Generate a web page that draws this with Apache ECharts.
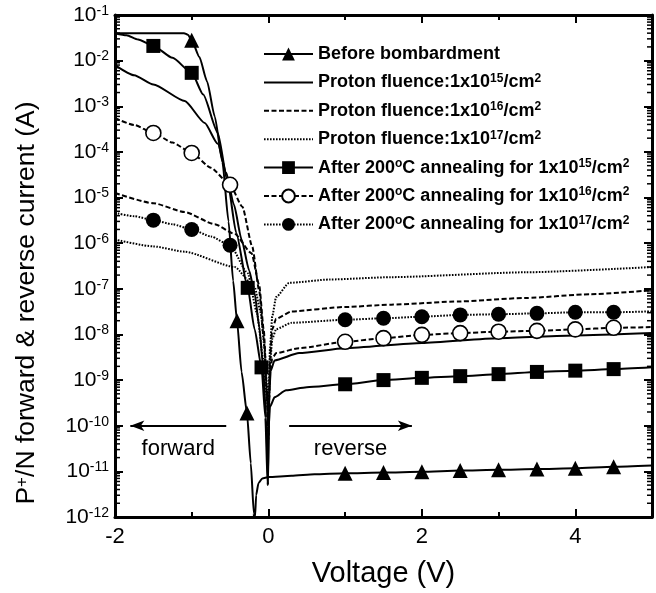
<!DOCTYPE html>
<html>
<head>
<meta charset="utf-8">
<script src="https://cdn.jsdelivr.net/npm/echarts@6/dist/echarts.min.js"></script>
<style>
  html, body { margin: 0; padding: 0; background: #fff; }
  #chart { width: 656px; height: 593px; }
</style>
</head>
<body>
<div id="chart"></div>
<script>
// I-V data: [voltage (V), |current| (A)]
const beforeCurve = [[-2, 4e-2], [-1.1, 4e-2], [-1.05, 3.7e-2], [-0.9, 1.2e-2], [-0.8, 3.5e-3], [-0.7, 6e-4], [-0.6, 6e-5], [-0.52, 3e-6], [-0.46, 1.5e-7], [-0.35, 1.5e-9], [-0.23, 1.5e-11], [-0.19, 1.2e-12], [-0.185, 3e-13], [-0.175, 1e-12], [-0.16, 3e-12], [-0.13, 5.5e-12], [-0.08, 7e-12], [0, 7.5e-12], [0.3, 8e-12], [0.6, 8.6e-12], [5, 1.35e-11]];
const beforeMarks = [[-1, 2.8e-2], [-0.41, 2e-8], [-0.28, 1.9e-10], [1, 9.1e-12], [1.5, 9.4e-12], [2, 9.8e-12], [2.5, 1.04e-11], [3, 1.08e-11], [3.5, 1.12e-11], [4, 1.17e-11], [4.5, 1.27e-11]];

const p15Curve = [[-2, 8e-3], [-1.75, 4.8e-3], [-1.5, 3e-3], [-1.09, 1.3e-3], [-0.83, 4.3e-4], [-0.66, 1.5e-4], [-0.55, 3.5e-5], [-0.45, 7e-6], [-0.35, 1.2e-6], [-0.25, 2.5e-7], [-0.18, 8e-8], [-0.12, 1.5e-8], [-0.07, 2e-9], [-0.03, 1.5e-10], [-0.005, 5e-12], [0.01, 5e-10], [0.03, 1.6e-9], [0.08, 2.7e-9], [0.4, 3.9e-9], [1, 5e-9], [2, 6.5e-9], [3, 8.3e-9], [4, 9.5e-9], [5, 1.07e-8]];
const p16Curve = [[-2, 1.26e-5], [-1.5, 7.5e-6], [-1.09, 4.8e-6], [-0.7, 2.6e-6], [-0.44, 1.6e-6], [-0.22, 6e-7], [-0.12, 1.2e-7], [-0.06, 1.2e-8], [-0.02, 6e-10], [0, 5e-11], [0.02, 3e-9], [0.05, 1.3e-8], [0.1, 2.2e-8], [0.3, 3.2e-8], [1, 4e-8], [1.6, 4.5e-8], [2.5, 5.3e-8], [3.35, 6.3e-8], [4.2, 7.6e-8], [5, 9.3e-8]];
const p17Curve = [[-2, 1.2e-6], [-1.5, 8.5e-7], [-1.09, 6.5e-7], [-0.44, 3e-7], [-0.18, 1.1e-7], [-0.1, 3e-8], [-0.05, 5e-9], [-0.02, 8e-10], [0, 2e-10], [0.02, 5e-9], [0.05, 2.5e-8], [0.1, 6.6e-8], [0.27, 1.35e-7], [0.8, 1.6e-7], [1.6, 1.8e-7], [3.35, 2.3e-7], [5, 3e-7]];

const a15Curve = [[-2, 4e-2], [-1.85, 3.6e-2], [-1.7, 2.9e-2], [-1.25, 1.15e-2], [-0.85, 1.8e-3], [-0.66, 2.6e-4], [-0.53, 2.1e-5], [-0.42, 1.7e-6], [-0.18, 1.3e-8], [-0.04, 1.5e-10], [-0.01, 5e-12], [0.005, 1e-10], [0.02, 2.6e-10], [0.08, 4.2e-10], [0.23, 6e-10], [0.5, 7e-10], [5, 1.9e-9]];
const a15Marks = [[-1.5, 2.1e-2], [-1, 5.4e-3], [-0.27, 1.05e-7], [-0.09, 1.9e-9], [1, 8.1e-10], [1.5, 1e-9], [2, 1.12e-9], [2.5, 1.22e-9], [3, 1.35e-9], [3.5, 1.51e-9], [4, 1.61e-9], [4.5, 1.74e-9]];
const a16Curve = [[-2, 5.5e-4], [-1.75, 3.9e-4], [-1.25, 1.6e-4], [-0.75, 4.5e-5], [-0.34, 6.3e-6], [-0.21, 8.3e-7], [-0.12, 9e-8], [-0.06, 8e-9], [-0.02, 5e-10], [0, 6e-11], [0.02, 1.5e-9], [0.05, 3e-9], [0.1, 3.9e-9], [0.4, 5e-9], [5, 1.45e-8]];
const a16Marks = [[-1.5, 2.6e-4], [-1, 9.5e-5], [-0.5, 1.9e-5], [1, 6.9e-9], [1.5, 8.3e-9], [2, 9.8e-9], [2.5, 1.07e-8], [3, 1.15e-8], [3.5, 1.2e-8], [4, 1.29e-8], [4.5, 1.4e-8]];
const a17Curve = [[-2, 4.6e-6], [-1.75, 3.9e-6], [-1.25, 2.6e-6], [-0.75, 1.4e-6], [-0.27, 2.2e-7], [-0.15, 3e-8], [-0.07, 3e-9], [-0.02, 4e-10], [0, 1.2e-10], [0.02, 2e-9], [0.05, 8e-9], [0.1, 1.3e-8], [0.3, 1.8e-8], [5, 3.2e-8]];
const a17Marks = [[-1.5, 3.2e-6], [-1, 2.0e-6], [-0.5, 9e-7], [1, 2.1e-8], [1.5, 2.26e-8], [2, 2.45e-8], [2.5, 2.68e-8], [3, 2.77e-8], [3.5, 2.9e-8], [4, 3.06e-8], [4.5, 3.06e-8]];

const seriesNames = [
  'Before bombardment',
  'Proton fluence:1x10{sup|15}/cm{sup|2}',
  'Proton fluence:1x10{sup|16}/cm{sup|2}',
  'Proton fluence:1x10{sup|17}/cm{sup|2}',
  'After 200{sup|o}C annealing for 1x10{sup|15}/cm{sup|2}',
  'After 200{sup|o}C annealing for 1x10{sup|16}/cm{sup|2}',
  'After 200{sup|o}C annealing for 1x10{sup|17}/cm{sup|2}'
];

// arrows at 1e-10: forward (tip, tail), reverse (tail, tip)
const arrowLevel = 1e-10;
const forwardArrow = [-1.8, -0.55];
const reverseArrow = [0.27, 1.87];

const xTicks = { min: -2, max: 5, interval: 2 };
const yDecades = { min: -12, max: -1 };
const minorMultipliers = [2, 3, 4, 5, 6, 7, 8, 9];

const FONT = '"Liberation Sans", Arial, sans-serif';

// merge curve points (no symbol) with marker points
function build(curve, marks) {
  const pts = curve.map(p => ({ value: p, symbol: 'none' }));
  (marks || []).forEach(p => pts.push({ value: p }));
  pts.sort((a, b) => a.value[0] - b.value[0]);
  return pts;
}

// log minor tick positions (axis decoration only)
const minorTickValues = [];
for (let e = yDecades.min; e < yDecades.max; e++) {
  minorMultipliers.forEach(k => minorTickValues.push([k * Math.pow(10, e)]));
}

const dashed = [5, 2.5];
const dotted = [1.6, 1.4];
const clear = 'rgba(0,0,0,0)';

function lineSeries(name, data, opts) {
  return Object.assign({
    name: name,
    type: 'line',
    data: data,
    xAxisIndex: 0,
    yAxisIndex: 0,
    showAllSymbol: true,
    smooth: 0.2,
    smoothMonotone: 'x',
    clip: true,
    z: 3
  }, opts);
}

const chart = echarts.init(document.getElementById('chart'), null, { renderer: 'canvas' });

const axisCommon = {
  axisLine: { show: true, onZero: false, lineStyle: { color: '#000', width: 3 } },
  splitLine: { show: false },
};
const tickStyle = { show: true, inside: true, length: 8, lineStyle: { color: '#000', width: 2 } };

const option = {
  animation: false,
  backgroundColor: '#fff',
  textStyle: { fontFamily: FONT, color: '#000' },
  grid: { left: 115, right: 4, top: 15, bottom: 76 },
  legend: {
    orient: 'vertical',
    left: 263,
    top: 44,
    padding: 0,
    itemWidth: 49,
    itemHeight: 16,
    itemGap: 8.4,
    data: seriesNames,
    textStyle: {
      fontFamily: FONT, fontSize: 18, fontWeight: 'bold', color: '#000', lineHeight: 20,
      rich: {
        sup: { fontSize: 12, fontWeight: 'bold', fontFamily: FONT, color: '#000', verticalAlign: 'top', lineHeight: 12 }
      }
    }
  },
  graphic: [{
    type: 'text',
    x: 27,
    y: 303,
    rotation: Math.PI / 2,
    silent: true,
    style: {
      text: 'P{sup|+}/N forward & reverse current (A)',
      fontFamily: FONT,
      fontSize: 26.5,
      fill: '#000',
      align: 'center',
      verticalAlign: 'middle',
      rich: { sup: { fontFamily: FONT, fontSize: 17, fill: '#000', verticalAlign: 'top', lineHeight: 16 } }
    }
  }],
  xAxis: [
    Object.assign({
      type: 'value', position: 'bottom',
      min: xTicks.min, max: xTicks.max, interval: xTicks.interval,
      name: 'Voltage (V)', nameLocation: 'middle', nameGap: 42,
      nameTextStyle: { fontFamily: FONT, fontSize: 29, color: '#000' },
      axisTick: tickStyle,
      minorTick: { show: true, splitNumber: 2, length: 5, lineStyle: { color: '#000', width: 2 } },
      axisLabel: { show: true, fontFamily: FONT, fontSize: 22, color: '#000', margin: 9,
        formatter: v => (v === 5 ? '' : String(v)) }
    }, axisCommon),
    Object.assign({
      type: 'value', position: 'top',
      min: xTicks.min, max: xTicks.max, interval: xTicks.interval,
      axisTick: tickStyle,
      minorTick: { show: true, splitNumber: 2, length: 5, lineStyle: { color: '#000', width: 2 } },
      axisLabel: { show: false }
    }, axisCommon)
  ],
  yAxis: [
    Object.assign({
      type: 'log', logBase: 10, position: 'left',
      min: Math.pow(10, yDecades.min), max: Math.pow(10, yDecades.max), interval: 1,
      axisTick: tickStyle,
      axisLabel: {
        show: true, margin: 6, fontFamily: FONT, fontSize: 21, color: '#000', lineHeight: 22,
        formatter: v => '10{sup|' + Math.round(Math.log10(v)) + '}',
        rich: { sup: { fontFamily: FONT, fontSize: 14, color: '#000', verticalAlign: 'top', lineHeight: 14 } }
      }
    }, axisCommon),
    Object.assign({
      type: 'log', logBase: 10, position: 'right',
      min: Math.pow(10, yDecades.min), max: Math.pow(10, yDecades.max), interval: 1,
      axisTick: tickStyle,
      axisLabel: { show: false }
    }, axisCommon)
  ],
  series: [
    lineSeries(seriesNames[0], build(beforeCurve, beforeMarks), {
      symbol: 'triangle', symbolSize: 15,
      itemStyle: { color: '#000' },
      lineStyle: { color: '#000', width: 2, type: 'solid' },
      markLine: {
        silent: true,
        symbol: ['none', 'none'],
        lineStyle: { color: '#000', width: 2, type: 'solid' },
        label: {
          show: true, position: 'insideMiddleBottom', distance: 12,
          fontFamily: FONT, fontSize: 22, color: '#000'
        },
        data: [
          [
            { coord: [forwardArrow[0], arrowLevel], symbol: 'arrow', symbolSize: [8, 14], label: { formatter: 'forward' } },
            { coord: [forwardArrow[1], arrowLevel], symbol: 'none' }
          ],
          [
            { coord: [reverseArrow[0], arrowLevel], symbol: 'none', label: { formatter: 'reverse' } },
            { coord: [reverseArrow[1], arrowLevel], symbol: 'arrow', symbolSize: [8, 14] }
          ]
        ]
      }
    }),
    // plain curves: the legend symbol is made invisible so only the line shows
    lineSeries(seriesNames[1], build(p15Curve), {
      symbol: 'circle', symbolSize: 1,
      itemStyle: { color: clear, borderWidth: 0 },
      lineStyle: { color: '#000', width: 2, type: 'solid' }
    }),
    lineSeries(seriesNames[2], build(p16Curve), {
      symbol: 'circle', symbolSize: 1,
      itemStyle: { color: clear, borderWidth: 0 },
      lineStyle: { color: '#000', width: 2, type: dashed }
    }),
    lineSeries(seriesNames[3], build(p17Curve), {
      symbol: 'circle', symbolSize: 1,
      itemStyle: { color: clear, borderWidth: 0 },
      lineStyle: { color: '#000', width: 2, type: dotted }
    }),
    lineSeries(seriesNames[4], build(a15Curve, a15Marks), {
      symbol: 'rect', symbolSize: 14,
      itemStyle: { color: '#000' },
      lineStyle: { color: '#000', width: 2, type: 'solid' }
    }),
    lineSeries(seriesNames[5], build(a16Curve, a16Marks), {
      symbol: 'circle', symbolSize: 15, z: 4,
      itemStyle: { color: '#fff', borderColor: '#000', borderWidth: 1.6 },
      lineStyle: { color: '#000', width: 2, type: dashed }
    }),
    lineSeries(seriesNames[6], build(a17Curve, a17Marks), {
      symbol: 'circle', symbolSize: 15,
      itemStyle: { color: '#000' },
      lineStyle: { color: '#000', width: 2, type: dotted }
    }),
    {
      // log-spaced minor ticks on the left and right frame
      type: 'custom',
      silent: true,
      clip: false,
      z: 5,
      data: minorTickValues,
      renderItem: (params, api) => {
        const left = api.coord([xTicks.min, api.value(0)]);
        const right = api.coord([xTicks.max, api.value(0)]);
        const style = { stroke: '#000', lineWidth: 1.5 };
        return {
          type: 'group',
          children: [
            { type: 'line', shape: { x1: left[0], y1: left[1], x2: left[0] + 5, y2: left[1] }, style },
            { type: 'line', shape: { x1: right[0], y1: right[1], x2: right[0] - 5, y2: right[1] }, style }
          ]
        };
      },
      encode: { y: 0 }
    }
  ]
};

chart.setOption(option);
</script>
</body>
</html>
